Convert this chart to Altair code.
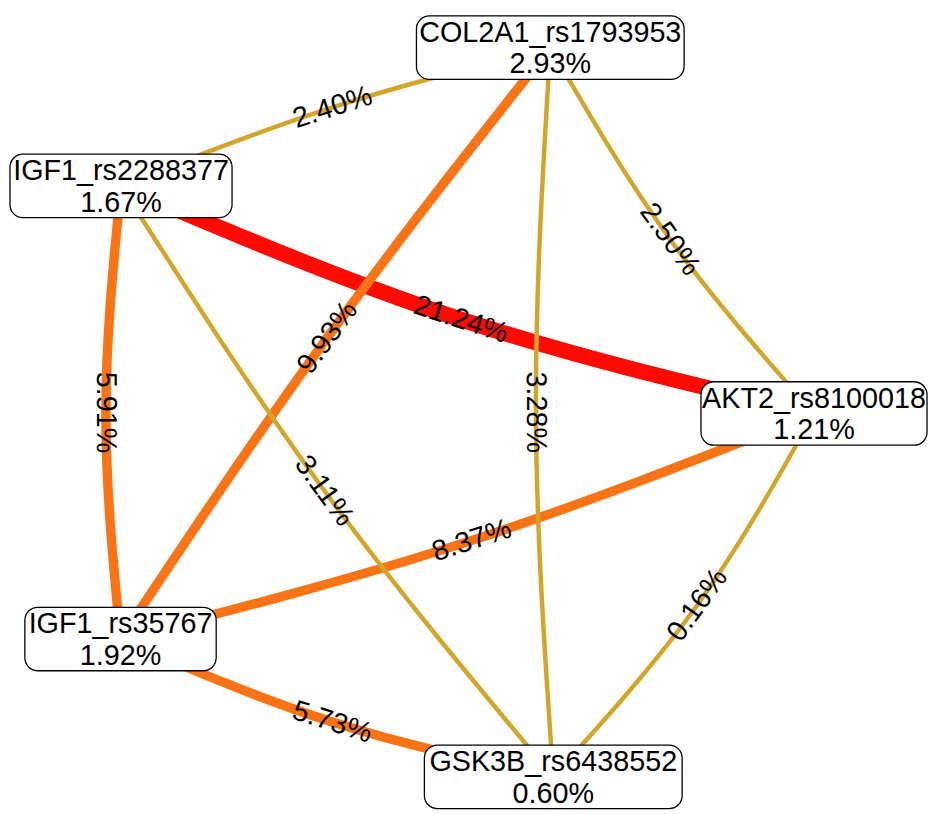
import math
import altair as alt
import pandas as pd

# ---------------- data ----------------
node_names = ["COL2A1_rs1793953", "IGF1_rs2288377", "AKT2_rs8100018", "IGF1_rs35767", "GSK3B_rs6438552"]
node_pcts = ["2.93%", "1.67%", "1.21%", "1.92%", "0.60%"]
node_x = [555, 122, 821, 121.5, 558]
node_y = [44.5, 184, 413.5, 641, 780]

edge_src = ["IGF1_rs2288377", "COL2A1_rs1793953", "AKT2_rs8100018", "IGF1_rs2288377", "IGF1_rs35767",
            "COL2A1_rs1793953", "IGF1_rs2288377", "COL2A1_rs1793953", "COL2A1_rs1793953", "AKT2_rs8100018"]
edge_tgt = ["AKT2_rs8100018", "IGF1_rs35767", "IGF1_rs35767", "IGF1_rs35767", "GSK3B_rs6438552",
            "GSK3B_rs6438552", "GSK3B_rs6438552", "AKT2_rs8100018", "IGF1_rs2288377", "GSK3B_rs6438552"]
edge_values = [21.24, 9.93, 8.37, 5.91, 5.73, 3.28, 3.11, 2.50, 2.40, 0.16]

# ---------------- layout / style ----------------
edge_bend = [21, 10, -15, 15, 15, 16, 16, 15, 10, -17]
box_w = {"COL2A1_rs1793953": 270, "IGF1_rs2288377": 224, "AKT2_rs8100018": 228,
         "IGF1_rs35767": 193, "GSK3B_rs6438552": 260}
BOX_H = 64
FONT = "Liberation Sans"
GOLD, ORANGE, RED = "#d3a62a", "#fa7314", "#ff0a00"

pos = {n: (x, y) for n, x, y in zip(node_names, node_x, node_y)}

pts, mids = [], []
for i, (s, t, v, b) in enumerate(zip(edge_src, edge_tgt, edge_values, edge_bend)):
    x0, y0 = pos[s]
    x1, y1 = pos[t]
    dx, dy = x1 - x0, y1 - y0
    L = math.hypot(dx, dy)
    nx, ny = -dy / L, dx / L
    mx, my = (x0 + x1) / 2 + b * nx, (y0 + y1) / 2 + b * ny
    eid = f"e{i:02d}"
    for k, (px, py) in enumerate([(x0, y0), (mx, my), (x1, y1)]):
        pts.append({"eid": eid, "k": k, "x": px, "y": py, "value": v})
    ang = math.degrees(math.atan2(dy, dx))
    if ang > 95:
        ang -= 180
    elif ang <= -85:
        ang += 180
    mids.append({"x": mx, "y": my, "label": f"{v:.2f}%", "angle": ang % 360})

edge_pts = pd.DataFrame(pts)
edge_mid = pd.DataFrame(mids)
nodes = pd.DataFrame({
    "name": node_names, "pct": node_pcts, "x": node_x, "y": node_y,
})
nodes["x0"] = nodes["x"] - nodes["name"].map(box_w) / 2
nodes["x1"] = nodes["x"] + nodes["name"].map(box_w) / 2
nodes["y0"] = nodes["y"] - BOX_H / 2
nodes["y1"] = nodes["y"] + BOX_H / 2

xs = alt.Scale(domain=[8, 928], nice=False, zero=False)
ys = alt.Scale(domain=[8, 806], nice=False, zero=False, reverse=True)
X = alt.X("x:Q", scale=xs, axis=None)
Y = alt.Y("y:Q", scale=ys, axis=None)

color_scale = alt.Scale(type="threshold", domain=[5, 15], range=[GOLD, ORANGE, RED])
width_scale = alt.Scale(type="threshold", domain=[5, 15], range=[4.5, 9.5, 16])

base_lines = alt.Chart(edge_pts).mark_line(interpolate="natural", strokeCap="butt").encode(
    x=X, y=Y, detail="eid:N", order="k:Q",
    color=alt.Color("value:Q", scale=color_scale, legend=None),
    strokeWidth=alt.StrokeWidth("value:Q", scale=width_scale, legend=None),
)
red_lines = base_lines.transform_filter("datum.value >= 15")
orange_lines = base_lines.transform_filter("datum.value >= 5 && datum.value < 15")
gold_lines = base_lines.transform_filter("datum.value < 5")

edge_labels = alt.Chart(edge_mid).mark_text(
    font=FONT, fontSize=29, color="black", align="center", baseline="middle"
).encode(x=X, y=Y, text="label:N", angle=alt.Angle("angle:Q", scale=None))

boxes = alt.Chart(nodes).mark_rect(
    cornerRadius=13, fill="white", stroke="black", strokeWidth=1.3
).encode(
    x=alt.X("x0:Q", scale=xs, axis=None), x2="x1:Q",
    y=alt.Y("y0:Q", scale=ys, axis=None), y2="y1:Q",
)
name_text = alt.Chart(nodes).mark_text(
    font=FONT, fontSize=29, color="black", dy=-15, baseline="middle"
).encode(x=X, y=Y, text="name:N")
pct_text = alt.Chart(nodes).mark_text(
    font=FONT, fontSize=29, color="black", dy=17, baseline="middle"
).encode(x=X, y=Y, text="pct:N")

chart = alt.layer(
    red_lines, orange_lines, gold_lines, edge_labels, boxes, name_text, pct_text
).properties(width=920, height=798, padding=0).configure_view(stroke=None)

chart.save("out.html", embed_options={"renderer": "svg", "actions": False})
